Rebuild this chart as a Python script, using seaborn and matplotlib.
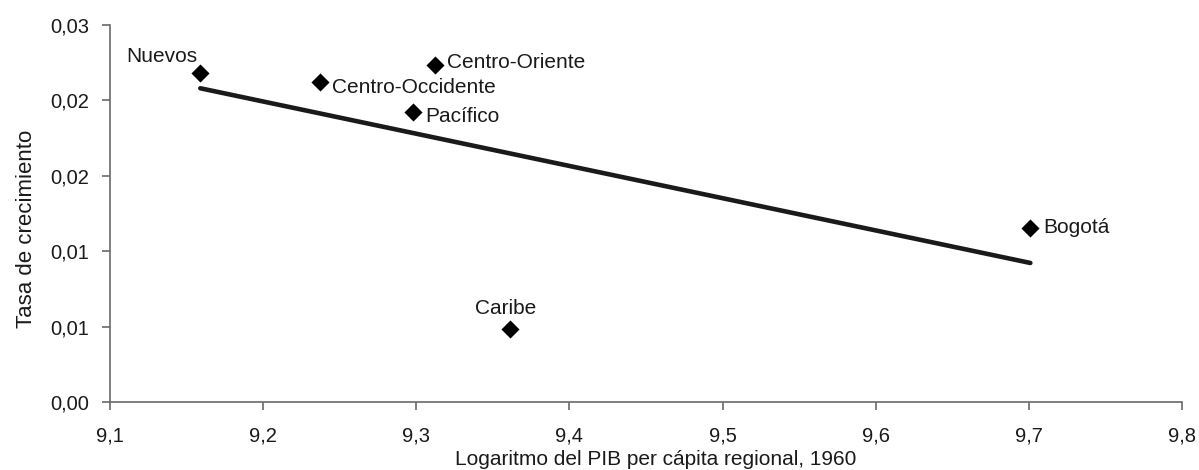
import matplotlib
matplotlib.use("Agg")
import matplotlib.pyplot as plt
import seaborn as sns
import numpy as np
import pandas as pd
from matplotlib.ticker import FuncFormatter

regions = ["Nuevos", "Centro-Occidente", "Centro-Oriente", "Pacífico", "Caribe", "Bogotá"]
log_pib_1960 = [9.159, 9.237, 9.312, 9.298, 9.361, 9.701]
tasa_crecimiento = [0.0262, 0.02546, 0.02682, 0.02308, 0.00581, 0.01385]
x_ticks = [9.1, 9.2, 9.3, 9.4, 9.5, 9.6, 9.7, 9.8]
y_ticks = [0.0, 0.006, 0.012, 0.018, 0.024, 0.030]

df = pd.DataFrame({"region": regions, "x": log_pib_1960, "y": tasa_crecimiento})

sns.set_theme(style="white")
plt.rcParams["font.family"] = ["Liberation Sans", "DejaVu Sans"]

fig = plt.figure(figsize=(11.99, 4.70), dpi=100)
ax = fig.add_axes([0.0917, 0.1447, 0.8941, 0.8021])

sns.regplot(data=df, x="x", y="y", ax=ax, ci=None, marker="D",
            scatter_kws={"s": 85, "color": "black", "alpha": 1.0, "zorder": 3, "linewidths": 0},
            line_kws={"color": "#1a1a1a", "linewidth": 3.3, "zorder": 2})

offsets = {
    "Nuevos": (-2, 5, "right", "bottom"),
    "Centro-Occidente": (9, -4, "left", "center"),
    "Centro-Oriente": (9, 2, "left", "center"),
    "Pacífico": (9, -3, "left", "center"),
    "Caribe": (-3, 8, "center", "bottom"),
    "Bogotá": (9, 0, "left", "center"),
}
for r, xv, yv in zip(regions, log_pib_1960, tasa_crecimiento):
    dx, dy, ha, va = offsets[r]
    ax.annotate(r, (xv, yv), xytext=(dx, dy), textcoords="offset points",
                ha=ha, va=va, fontsize=15, color="#1a1a1a")

ax.set_xlim(9.1, 9.8)
ax.set_ylim(0.0, 0.030)
ax.set_xticks(x_ticks)
ax.set_yticks(y_ticks)
ax.xaxis.set_major_formatter(FuncFormatter(lambda v, p: f"{v:.1f}".replace(".", ",")))
ax.yaxis.set_major_formatter(FuncFormatter(lambda v, p: f"{v:.2f}".replace(".", ",")))
ax.tick_params(axis="both", labelsize=14.5, length=6, width=1.2,
               direction="out", bottom=True, left=True, colors="#6a6a6a", labelcolor="#1a1a1a")
ax.tick_params(axis="x", pad=12)
ax.tick_params(axis="y", pad=9)
for s in ["top", "right"]:
    ax.spines[s].set_visible(False)
for s in ["left", "bottom"]:
    ax.spines[s].set_color("#6a6a6a")
    ax.spines[s].set_linewidth(1.2)

ax.set_xlabel("Logaritmo del PIB per cápita regional, 1960", fontsize=15, color="#1a1a1a")
ax.set_ylabel("Tasa de crecimiento", fontsize=16, color="#1a1a1a")
ax.xaxis.set_label_coords(0.509, -0.127)
ax.yaxis.set_label_coords(-0.068, 0.459)

fig.savefig("out.png", dpi=100, facecolor="white")
